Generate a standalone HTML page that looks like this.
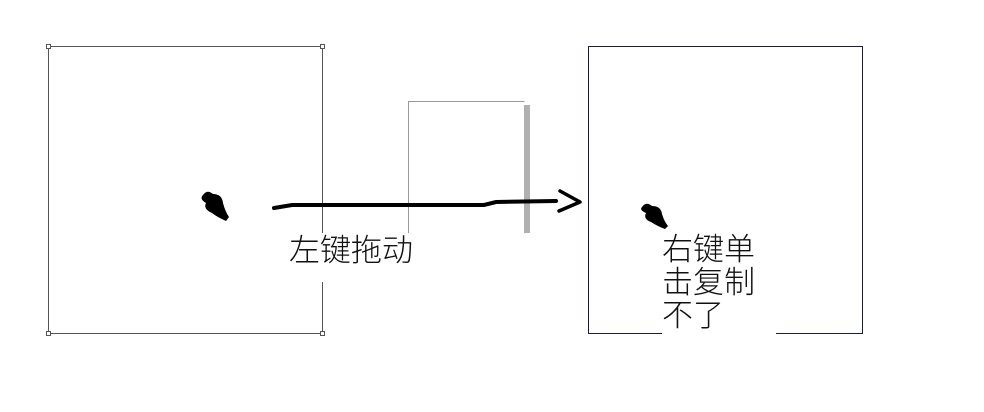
<!DOCTYPE html>
<html><head><meta charset="utf-8"><style>
html,body{margin:0;padding:0;background:#fff;}
body{width:984px;height:412px;position:relative;overflow:hidden;font-family:"Liberation Sans","Noto Sans CJK SC","WenQuanYi Zen Hei",sans-serif;}
.t{position:absolute;background:#fff;color:#111;font-size:31px;line-height:33px;font-weight:300;}
</style></head><body>
<svg width="984" height="412" style="position:absolute;left:0;top:0">
<g fill="none" stroke-width="1">
<path d="M48.5 46.5 H322.5 V333.5 H48.5 Z" stroke="#555"/>
<rect x="46.5" y="44.5" width="4" height="4" fill="#fff" stroke="#555"/>
<rect x="320.5" y="44.5" width="4" height="4" fill="#fff" stroke="#555"/>
<rect x="46.5" y="331.5" width="4" height="4" fill="#fff" stroke="#555"/>
<rect x="320.5" y="331.5" width="4" height="4" fill="#fff" stroke="#555"/>
<path d="M408.5 233 V101.5 H524.5" stroke="#999"/>
<path d="M588.5 46.5 H862.5 V333.5 H588.5 Z" stroke="#1a1a4a"/>
</g>
<rect x="524" y="105" width="6" height="128" fill="#b0b0b0"/>
<path d="M274 208 L292 205 L484 205 L496 202 L556 201" stroke="#000" stroke-width="4" fill="none" stroke-linecap="round"/>
<path d="M560 191 L580 202 L559 211" stroke="#000" stroke-width="3.5" fill="none" stroke-linecap="round" stroke-linejoin="round"/>
<path d="M203 195 Q207 189 213 194 Q222 194 223 203 Q225 211 229 217 L226 221 Q217 217 212 213 Q203 209 206 203 Q199 199 203 195Z" fill="#000"/>
<path d="M642 207 Q646 201 652 206 Q661 206 662 214 Q664 221 668 226 L665 229 Q657 226 651 222 Q643 219 646 213 Q639 210 642 207Z" fill="#000"/>
</svg>
<div class="t" style="left:289px;top:233px;width:134px;height:48px;padding-top:1px;">左键拖动</div>
<div class="t" style="left:662px;top:233px;width:114px;height:102px;">右键单<br>击复制<br>不了</div>
</body></html>
